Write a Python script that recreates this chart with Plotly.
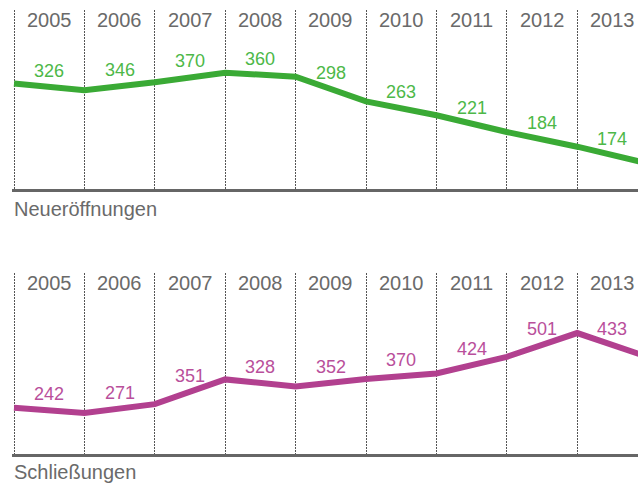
import plotly.graph_objects as go

# ---- data ----
years = [2005, 2006, 2007, 2008, 2009, 2010, 2011, 2012, 2013]
openings = [326, 346, 370, 360, 298, 263, 221, 184, 174]
closures = [242, 271, 351, 328, 352, 370, 424, 501, 433]

# the drawn lines have their vertices on the column borders
borders = [2004.5, 2005.5, 2006.5, 2007.5, 2008.5, 2009.5, 2010.5, 2011.5, 2012.5, 2013.5]
openings_line = [343, 326, 346, 370, 360, 298, 263, 221, 184, 142]
closures_line = [259, 242, 271, 351, 328, 352, 370, 424, 501, 424]

title_top = "Neueröffnungen"
title_bottom = "Schließungen"

# ---- styling ----
W, H = 638, 486
FONT = "Liberation Sans"
GREEN = "#3aaa35"
GREEN_TXT = "#4db848"
PINK = "#b2408f"
PINK_TXT = "#b94f9b"
GREY_TXT = "#6a6a6a"

def px_dom(top_px, bottom_px):
    return [(H - bottom_px) / H, (H - top_px) / H]

left_px = 12
px_per_year = 70.4
x_left = 2004.5 - (14 - left_px) / px_per_year
x_right = 2004.5 + (W - 14) / px_per_year

fig = go.Figure()
fig.add_trace(go.Scatter(x=borders, y=openings_line, mode="lines",
                         line=dict(color=GREEN, width=6), xaxis="x", yaxis="y",
                         hoverinfo="skip", showlegend=False))
fig.add_trace(go.Scatter(x=borders, y=closures_line, mode="lines",
                         line=dict(color=PINK, width=6), xaxis="x2", yaxis="y2",
                         hoverinfo="skip", showlegend=False))

xcommon = dict(range=[x_left, x_right], domain=[left_px / W, 1],
               tickmode="array", tickvals=borders, showticklabels=False, ticks="",
               showgrid=True, gridcolor="#555555", gridwidth=1, griddash="2px,1px",
               zeroline=False, showline=True, linecolor="#666666", linewidth=3,
               fixedrange=True)
ycommon = dict(showticklabels=False, showgrid=False, zeroline=False, showline=False,
               ticks="", fixedrange=True)

fig.update_layout(
    width=W, height=H,
    margin=dict(l=0, r=0, t=0, b=0),
    paper_bgcolor="white", plot_bgcolor="white",
    font=dict(family=FONT, color=GREY_TXT),
    xaxis=dict(xcommon, anchor="y"),
    yaxis=dict(ycommon, range=[78.9, 527.6], domain=px_dom(10, 188.5), anchor="x"),
    xaxis2=dict(xcommon, anchor="y2"),
    yaxis2=dict(ycommon, range=[111.2, 695.3], domain=px_dom(273, 453.5), anchor="x2"),
)

ann = []
for xr, yr, vals, line, col in [("x", "y", openings, openings_line, GREEN_TXT),
                                 ("x2", "y2", closures, closures_line, PINK_TXT)]:
    for i, yv in enumerate(years):
        # year label at the top of each column
        ann.append(dict(x=yv, y=1, xref=xr, yref=yr + " domain", text=str(yv),
                        showarrow=False, yanchor="middle", yshift=-10,
                        font=dict(size=20, color=GREY_TXT, family=FONT)))
        # value label above the line segment of the column
        mid = (line[i] + line[i + 1]) / 2
        ann.append(dict(x=yv, y=mid, xref=xr, yref=yr, text=str(vals[i]),
                        showarrow=False, yanchor="middle", yshift=16,
                        font=dict(size=18, color=col, family=FONT)))

ann.append(dict(x=left_px / W, y=(H - 209) / H, xref="paper", yref="paper",
                text=title_top, showarrow=False, xanchor="left", yanchor="middle",
                font=dict(size=20, color=GREY_TXT, family=FONT)))
ann.append(dict(x=left_px / W, y=(H - 472) / H, xref="paper", yref="paper",
                text=title_bottom, showarrow=False, xanchor="left", yanchor="middle",
                font=dict(size=20, color=GREY_TXT, family=FONT)))
fig.update_layout(annotations=ann)

fig.write_html("out.html")
